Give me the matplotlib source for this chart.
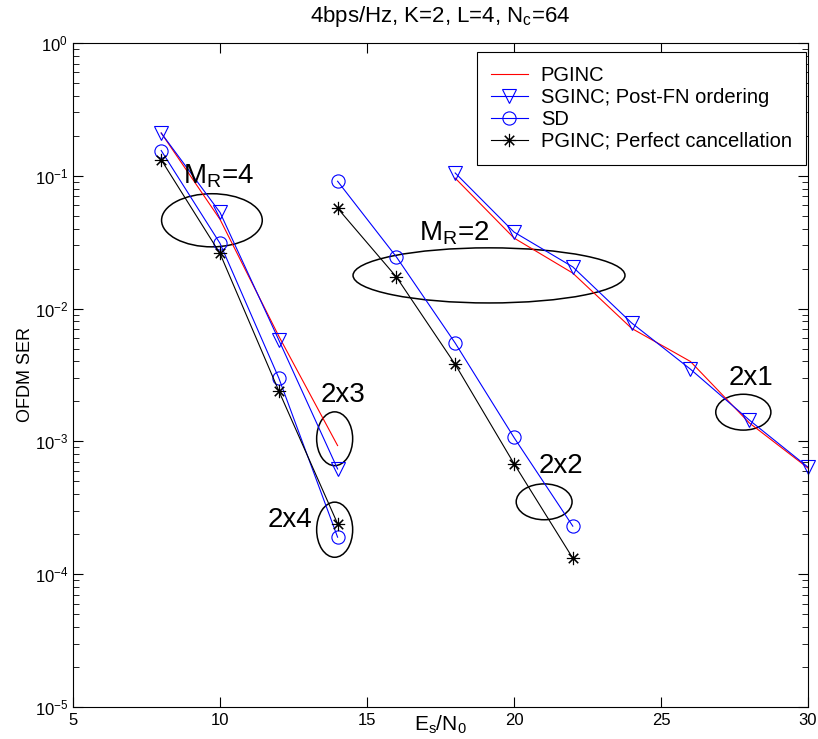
import matplotlib
matplotlib.use("Agg")
import matplotlib.pyplot as plt
from matplotlib.patches import Ellipse

plt.rcParams['font.family'] = ['Liberation Sans', 'DejaVu Sans']
plt.rcParams['mathtext.fontset'] = 'custom'
plt.rcParams['mathtext.rm'] = 'Liberation Sans'
plt.rcParams['mathtext.it'] = 'Liberation Sans'

# ---- data ----
snr_mr4 = [8, 10, 12, 14]
pginc_mr4 = [0.21, 0.047, 0.0062, 9.3e-4]
sginc_mr4 = [0.21, 0.053, 0.0058, 6.2e-4]
sd_mr4 = [0.155, 0.031, 0.0030, 1.9e-4]
perfect_mr4 = [0.132, 0.026, 0.0024, 2.4e-4]

snr_mr2 = [14, 16, 18, 20, 22]
sd_mr2 = [0.091, 0.0245, 0.0055, 1.07e-3, 2.3e-4]
perfect_mr2 = [0.057, 0.0173, 0.0038, 6.8e-4, 1.32e-4]

snr_2x1 = [18, 20, 22, 24, 26, 28, 30]
pginc_2x1 = [0.096, 0.034, 0.0185, 0.0071, 0.0040, 0.00138, 6.3e-4]
sginc_2x1 = [0.105, 0.0377, 0.0206, 0.0078, 0.0035, 0.00145, 6.4e-4]

legend_labels = ['PGINC', 'SGINC; Post-FN ordering', 'SD',
                 'PGINC; Perfect cancellation']
xticks = [5, 10, 15, 20, 25, 30]

fig = plt.figure(figsize=(8.18, 7.39), dpi=100)
ax = fig.add_axes([73/818, 1-707/739, 735/818, 664/739])

lw = 0.8
ms = 9.5
star = (8, 2, 0)
tri_kw = dict(color='blue', marker='v', markersize=ms, markerfacecolor='none', lw=lw, mew=0.8, clip_on=False)
cir_kw = dict(color='blue', marker='o', markersize=ms, markerfacecolor='none', lw=lw, mew=0.8, clip_on=False)
star_kw = dict(color='black', marker=star, markersize=ms, lw=lw, mew=0.8, clip_on=False)

h1, = ax.semilogy(snr_mr4, pginc_mr4, color='red', lw=lw)
h2, = ax.semilogy(snr_mr4, sginc_mr4, **tri_kw)
h3, = ax.semilogy(snr_mr4, sd_mr4, **cir_kw)
h4, = ax.semilogy(snr_mr4, perfect_mr4, **star_kw)
ax.semilogy(snr_mr2, sd_mr2, **cir_kw)
ax.semilogy(snr_mr2, perfect_mr2, **star_kw)
ax.semilogy(snr_2x1, pginc_2x1, color='red', lw=lw, clip_on=False)
ax.semilogy(snr_2x1, sginc_2x1, **tri_kw)

ax.set_xlim(5, 30)
ax.set_ylim(1e-5, 1)
ax.set_xticks(xticks)
ax.set_xticklabels([str(t) for t in xticks])
ax.tick_params(which='both', direction='in', top=True, right=True, labelsize=12)
ax.tick_params(which='major', length=7, width=0.8)
ax.tick_params(which='minor', length=4, width=0.6)
ax.tick_params(axis='x', which='minor', bottom=False, top=False)
ax.tick_params(axis='x', pad=4)
for s in ax.spines.values():
    s.set_linewidth(0.8)

ax.set_title('4bps/Hz, K=2, L=4, $\\mathregular{N_c}$=64', fontsize=16, pad=15)
ax.set_xlabel('$\\mathregular{E_s/N_0}$', fontsize=15, va='center')
ax.xaxis.set_label_coords(0.5, -0.027)
ax.set_ylabel('OFDM SER', fontsize=13, va='center')
ax.yaxis.set_label_coords(-0.065, 0.5)

leg = ax.legend([h1, h2, h3, h4], legend_labels, loc='upper right',
                bbox_to_anchor=(0.997, 0.986), borderaxespad=0, fontsize=14.5,
                fancybox=False, framealpha=1, edgecolor='black', numpoints=1,
                handlelength=1.8, handletextpad=0.65, labelspacing=0.135,
                borderpad=0.7)
leg.get_frame().set_linewidth(0.8)

# ---- annotations (axes fractions) ----
ellipses = [
    ((0.189, 0.733), 0.137, 0.080),
    ((0.566, 0.650), 0.370, 0.083),
    ((0.356, 0.404), 0.049, 0.081),
    ((0.356, 0.267), 0.049, 0.083),
    ((0.641, 0.309), 0.076, 0.054),
    ((0.912, 0.444), 0.075, 0.054),
]
for c, w, h in ellipses:
    ax.add_patch(Ellipse(c, w, h, transform=ax.transAxes, fill=False,
                         edgecolor='black', lw=1.1))

ax.text(0.150, 0.789, '$\\mathregular{M_R}$=4', transform=ax.transAxes,
        fontsize=20, ha='left', va='baseline')
ax.text(0.471, 0.703, '$\\mathregular{M_R}$=2', transform=ax.transAxes,
        fontsize=20, ha='left', va='baseline')
for txt, x, y in [('2x3', 0.368, 0.459), ('2x4', 0.295, 0.271),
                  ('2x2', 0.664, 0.352), ('2x1', 0.923, 0.485)]:
    ax.text(x, y, txt, transform=ax.transAxes, fontsize=20,
            ha='center', va='baseline')

fig.savefig('out.png', dpi=100)
